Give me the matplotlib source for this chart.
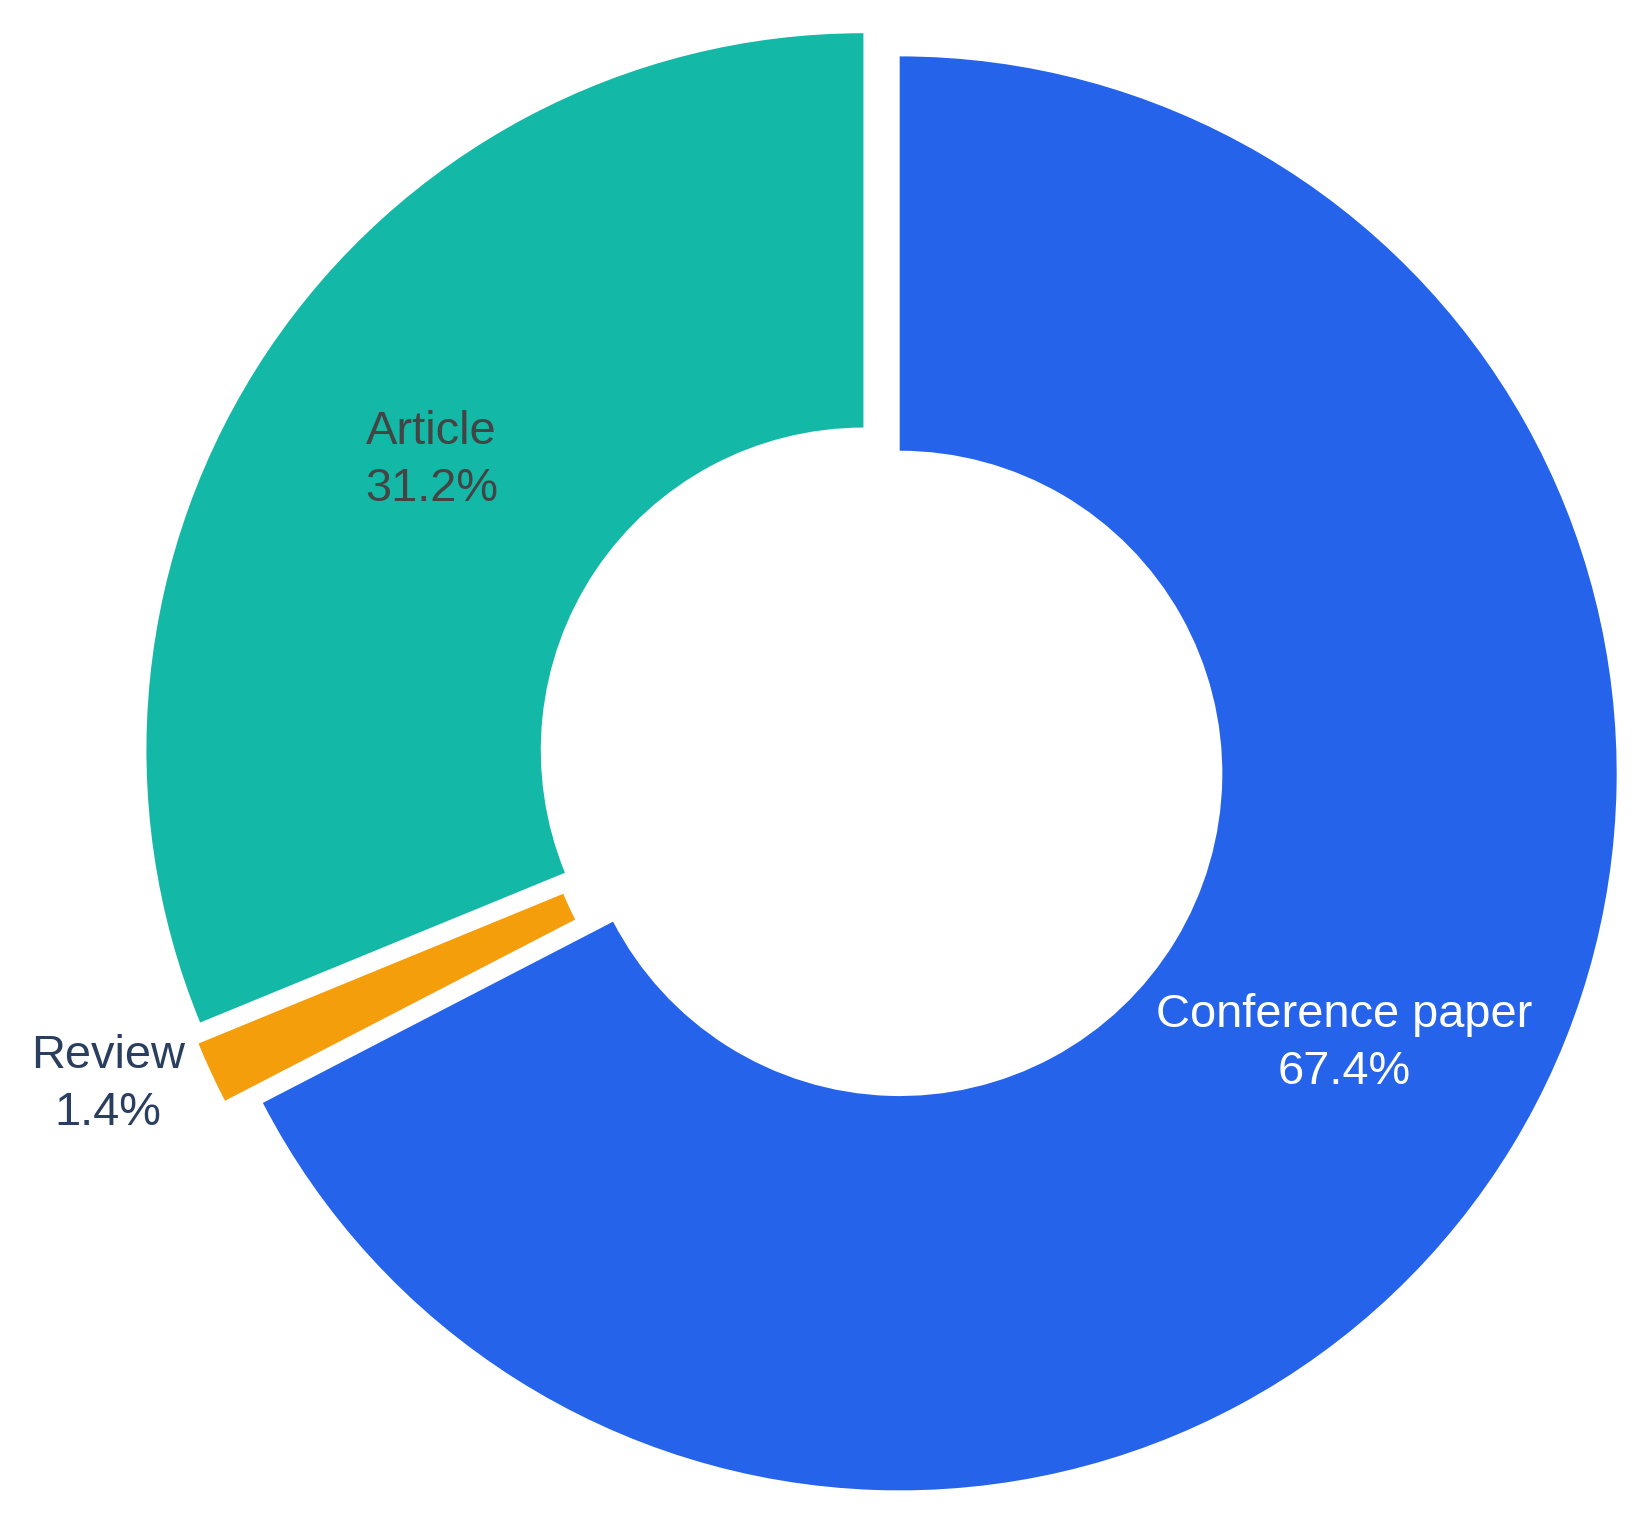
import matplotlib
matplotlib.use("Agg")
import matplotlib.pyplot as plt
import numpy as np

# document types (share of records, %)
labels = ["Conference paper", "Review", "Article"]
shares = [67.4, 1.4, 31.2]
colors = ["#2563EB", "#F59E0B", "#14B8A6"]

# text style per slice: (colour, placement)
TEXT_STYLE = {
    "Conference paper": ("#FFFFFF", "inside"),
    "Review": ("#2A3F5F", "outside"),
    "Article": ("#444444", "inside"),
}
FONT_SIZE = 33.8
INSIDE_R = 0.725
OUTSIDE_R = 1.04
LINESPACING = 1.37
PULL = 0.03
HOLE = 0.45

W, H = 1645, 1514
PX_PER_UNIT = 717.0
CENTER_PX = (881.3, 762.2)  # from top-left

plt.rcParams["font.family"] = ["Liberation Sans", "DejaVu Sans"]

fig = plt.figure(figsize=(W / 100, H / 100), dpi=100)
ax = fig.add_axes([0, 0, 1, 1])

wedges, _ = ax.pie(
    shares,
    colors=colors,
    startangle=90,
    counterclock=False,
    explode=[PULL] * len(shares),
    radius=1.0,
    wedgeprops=dict(width=1.0 - HOLE, linewidth=0),
)

for w, lab, val in zip(wedges, labels, shares):
    color, where = TEXT_STYLE[lab]
    mid = np.deg2rad((w.theta1 + w.theta2) / 2.0)
    cx, cy = w.center
    if where == "inside":
        r, ha = INSIDE_R, "center"
    else:
        r, ha = OUTSIDE_R, "right"
    ax.text(cx + r * np.cos(mid), cy + r * np.sin(mid), f"{lab}\n{val:.1f}%",
            ha=ha, va="center", color=color, fontsize=FONT_SIZE,
            linespacing=LINESPACING, multialignment="center")

ax.set_aspect("auto")
ax.set_xlim(-CENTER_PX[0] / PX_PER_UNIT, (W - CENTER_PX[0]) / PX_PER_UNIT)
ax.set_ylim(-(H - CENTER_PX[1]) / PX_PER_UNIT, CENTER_PX[1] / PX_PER_UNIT)
ax.axis("off")

fig.savefig("out.png", dpi=100, facecolor="white")
plt.close(fig)
